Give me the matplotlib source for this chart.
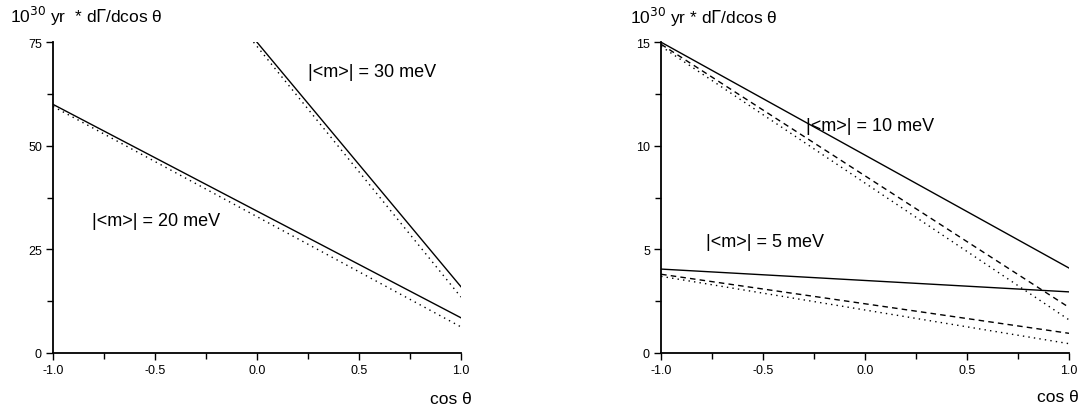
import matplotlib.pyplot as plt
from matplotlib.ticker import MultipleLocator

plt.rcParams['font.family'] = ['Liberation Sans', 'DejaVu Sans']

cos_t = [-1.0, 1.0]

# left panel: 20 meV and 30 meV, solid and dotted
m20_solid = [60.0, 8.5]
m20_dot = [59.5, 6.3]
m30_solid = [134.0, 16.0]
m30_dot = [134.5, 13.5]

# right panel: 10 meV and 5 meV, solid, dashed and dotted
m10_solid = [15.0, 4.1]
m10_dash = [14.9, 2.2]
m10_dot = [14.8, 1.6]
m5_solid = [4.05, 2.95]
m5_dash = [3.8, 0.95]
m5_dot = [3.7, 0.45]

fig = plt.figure(figsize=(10.82, 4.10), dpi=100)
ax1 = fig.add_axes([0.049, 0.1366, 0.377, 0.758])
ax2 = fig.add_axes([0.611, 0.1366, 0.377, 0.758])


def style(ax, ymax, ymajor):
    ax.set_xlim(-1, 1)
    ax.set_ylim(0, ymax)
    for s in ['top', 'right']:
        ax.spines[s].set_visible(False)
    for s in ['left', 'bottom']:
        ax.spines[s].set_linewidth(1.3)
    ax.xaxis.set_major_locator(MultipleLocator(0.5))
    ax.xaxis.set_minor_locator(MultipleLocator(0.25))
    ax.yaxis.set_major_locator(MultipleLocator(ymajor))
    ax.yaxis.set_minor_locator(MultipleLocator(ymajor / 2))
    ax.xaxis.set_major_formatter(plt.FuncFormatter(lambda v, p: '%.1f' % v))
    ax.tick_params(which='major', direction='out', length=5, width=1, labelsize=9, pad=3)
    ax.tick_params(which='minor', direction='out', length=4, width=1)


style(ax1, 75, 25)
style(ax2, 15, 5)

ax1.plot(cos_t, m20_solid, color='black', lw=1)
ax1.plot(cos_t, m20_dot, color='black', lw=1, ls=(0, (1, 3)))
ax1.plot(cos_t, m30_solid, color='black', lw=1)
ax1.plot(cos_t, m30_dot, color='black', lw=1, ls=(0, (1, 3)))
ax1.text(0.25, 68, '|<m>| = 30 meV', fontsize=13, va='center')
ax1.text(-0.81, 32, '|<m>| = 20 meV', fontsize=13, va='center')

ax2.plot(cos_t, m10_solid, color='black', lw=1)
ax2.plot(cos_t, m10_dash, color='black', lw=1, ls=(0, (4, 3)))
ax2.plot(cos_t, m10_dot, color='black', lw=1, ls=(0, (1, 3)))
ax2.plot(cos_t, m5_solid, color='black', lw=1)
ax2.plot(cos_t, m5_dash, color='black', lw=1, ls=(0, (4, 3)))
ax2.plot(cos_t, m5_dot, color='black', lw=1, ls=(0, (1, 3)))
ax2.text(-0.29, 11.0, '|<m>| = 10 meV', fontsize=13, va='center')
ax2.text(-0.78, 5.4, '|<m>| = 5 meV', fontsize=13, va='center')

fig.text(10 / 1082, 1 - 16 / 410, r'10$^{30}$ yr  * d$\Gamma$/dcos θ', fontsize=12.5, va='center')
fig.text(630 / 1082, 1 - 17 / 410, r'10$^{30}$ yr * d$\Gamma$/dcos θ', fontsize=12.5, va='center')
fig.text(451 / 1082, 1 - 400 / 410, 'cos θ', fontsize=12.5, ha='center', va='center')
fig.text(1058 / 1082, 1 - 398 / 410, 'cos θ', fontsize=12.5, ha='center', va='center')

fig.savefig('out.png', dpi=100)
